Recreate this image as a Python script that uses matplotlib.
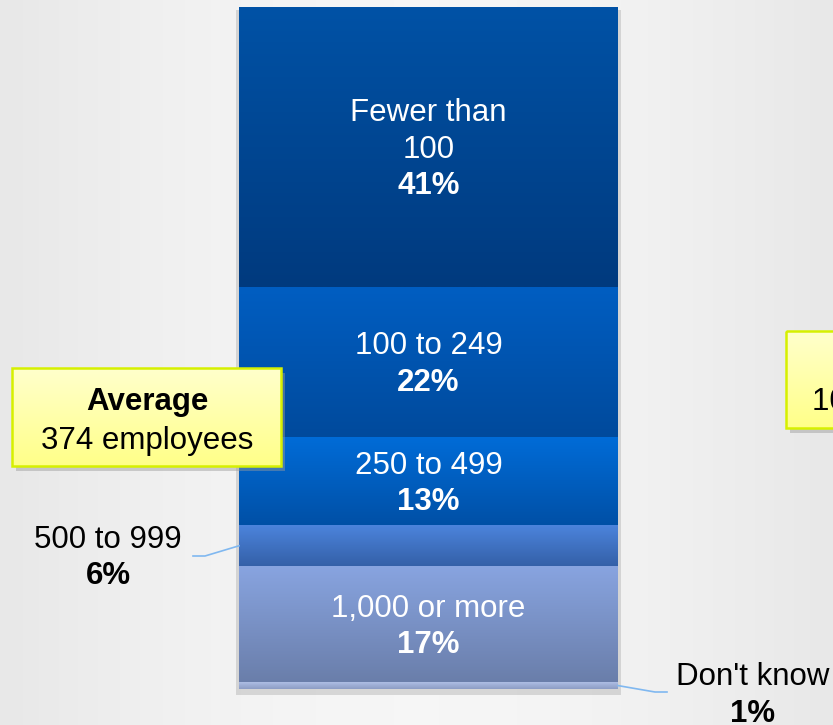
import numpy as np
import matplotlib
matplotlib.use("Agg")
import matplotlib.pyplot as plt
from matplotlib.patches import Rectangle
from matplotlib.colors import LinearSegmentedColormap

plt.rcParams['font.family'] = ['Liberation Sans', 'DejaVu Sans']

# data (share of companies by employee count, top to bottom of the stack)
sizes = ['Fewer than\n100', '100 to 249', '250 to 499', '500 to 999', '1,000 or more', "Don't know"]
shares = [41, 22, 13, 6, 17, 1]
inside = [True, True, True, False, True, False]

# gradient colours (top, bottom) per segment
seg_colors = [('#0052A6', '#003A7E'),
              ('#005EC2', '#004A9C'),
              ('#006CD8', '#0050A6'),
              ('#4C84DC', '#3460A8'),
              ('#88A4E0', '#6A7EAA'),
              ('#AEBEE4', '#8C9CC4')]

avg_title = 'Average'
avg_text = '374 employees'
med_text = '100 employees'

W, H = 833, 725
fig = plt.figure(figsize=(W / 100, H / 100), dpi=100)
fig.patch.set_facecolor('#F0F0F0')
ax = fig.add_axes([0, 0, 1, 1])
ax.set_axis_off()

# pixel layout -> data coords (bar spans x -0.5..0.5, y 0..100 top->bottom)
BX0, BX1, BY0, BY1 = 239, 618, 7, 689
sx = (BX1 - BX0)
sy = (BY1 - BY0) / 100.0
xc = (BX0 + BX1) / 2.0

def px2x(px):
    return (px - xc) / sx

def px2y(py):
    return (py - BY0) / sy

def gradient_fill(patch, top, bottom, x0, x1, y_top, y_bot, z):
    cmap = LinearSegmentedColormap.from_list('g', [top, bottom])
    grad = np.linspace(0, 1, 256).reshape(-1, 1)
    im = ax.imshow(grad, extent=(x0, x1, y_bot, y_top), origin='upper',
                   aspect='auto', cmap=cmap, zorder=z)
    im.set_clip_path(patch)

# background sheen
bg = np.linspace(0, 1, 256).reshape(1, -1)
bg = 0.5 + 0.5 * np.sin(bg * np.pi)
ax.imshow(bg, extent=(px2x(0), px2x(W), px2y(H), px2y(0)), origin='upper',
          aspect='auto', cmap=LinearSegmentedColormap.from_list('bg', ['#E8E8E8', '#F6F6F6']),
          zorder=0)

# bar shadow
ax.add_patch(Rectangle((-0.5 - 3 / sx, px2y(BY0 + 3)), 1 + 6 / sx, 100 + 3 / sy,
                       facecolor='#B8B8B8', alpha=0.5, edgecolor='none', zorder=1))

starts = np.concatenate([[0], np.cumsum(shares)[:-1]])
bars = ax.bar([0] * len(shares), shares, bottom=starts, width=1.0,
              color='none', edgecolor='none', zorder=2)
for b, s, v, (ct, cb) in zip(bars, starts, shares, seg_colors):
    gradient_fill(b, ct, cb, -0.5, 0.5, s, s + v, 2)

# labels inside the bar
fs = 22.5
lh = 36.5  # line height in px
for s, v, name, ins in zip(starts, shares, sizes, inside):
    if not ins:
        continue
    c = BY0 + (s + v / 2.0) * sy
    lines = name.split('\n')
    n = len(lines) + 1
    first_base = c - (n - 1) * lh / 2.0 + 11
    for i, ln in enumerate(lines):
        ax.text(0, px2y(first_base + i * lh), ln, ha='center', va='baseline',
                color='white', fontsize=fs, zorder=5)
    ax.text(0, px2y(first_base + (n - 1) * lh), f'{v}%', ha='center', va='baseline',
            color='white', fontsize=fs, fontweight='bold', zorder=5)

# outside labels with leader lines
lead = '#80B8F0'
i6 = sizes.index('500 to 999')
m6 = starts[i6] + shares[i6] / 2.0
ax.plot([px2x(193), px2x(205), -0.5], [px2y(556), px2y(556), m6],
        color=lead, lw=1.2, zorder=4)
ax.text(px2x(108), px2y(548), sizes[i6], ha='center', va='baseline', fontsize=fs, color='black')
ax.text(px2x(108), px2y(584), f'{shares[i6]}%', ha='center', va='baseline',
        fontsize=fs, fontweight='bold', color='black')

i1 = sizes.index("Don't know")
m1 = starts[i1] + shares[i1] / 2.0
ax.plot([0.5, px2x(655), px2x(667)], [m1, px2y(692), px2y(692)],
        color=lead, lw=1.2, zorder=4)
ax.text(px2x(753), px2y(685), sizes[i1], ha='center', va='baseline', fontsize=fs, color='black')
ax.text(px2x(753), px2y(722), f'{shares[i1]}%', ha='center', va='baseline',
        fontsize=fs, fontweight='bold', color='black')

# callout boxes
def callout(x0, y0, x1, y1):
    ax.add_patch(Rectangle((px2x(x0 + 4), px2y(y0 + 5)), (x1 - x0) / sx, (y1 - y0) / sy,
                           facecolor='#9A9A9A', alpha=0.45, edgecolor='none', zorder=6))
    box = Rectangle((px2x(x0), px2y(y0)), (x1 - x0) / sx, (y1 - y0) / sy,
                    facecolor='none', edgecolor='#D6F000', lw=1.8, zorder=8)
    ax.add_patch(box)
    clip = Rectangle((px2x(x0), px2y(y0)), (x1 - x0) / sx, (y1 - y0) / sy,
                     facecolor='none', edgecolor='none', zorder=7)
    ax.add_patch(clip)
    gradient_fill(clip, '#FFFFCC', '#FFFF88', px2x(x0), px2x(x1), px2y(y0), px2y(y1), 7)

callout(12, 368, 281, 466)
ax.text(px2x(147), px2y(410), avg_title, ha='center', va='baseline', fontsize=fs,
        fontweight='bold', color='black', zorder=9)
ax.text(px2x(147), px2y(449), avg_text, ha='center', va='baseline', fontsize=fs,
        color='black', zorder=9)

callout(786, 331, 1060, 428)
ax.text(px2x(812), px2y(410), med_text, ha='left', va='baseline', fontsize=fs,
        color='black', zorder=9)

ax.set_xlim(px2x(0), px2x(W))
ax.set_ylim(px2y(H), px2y(0))

fig.savefig('out.png', dpi=100, facecolor=fig.get_facecolor())
